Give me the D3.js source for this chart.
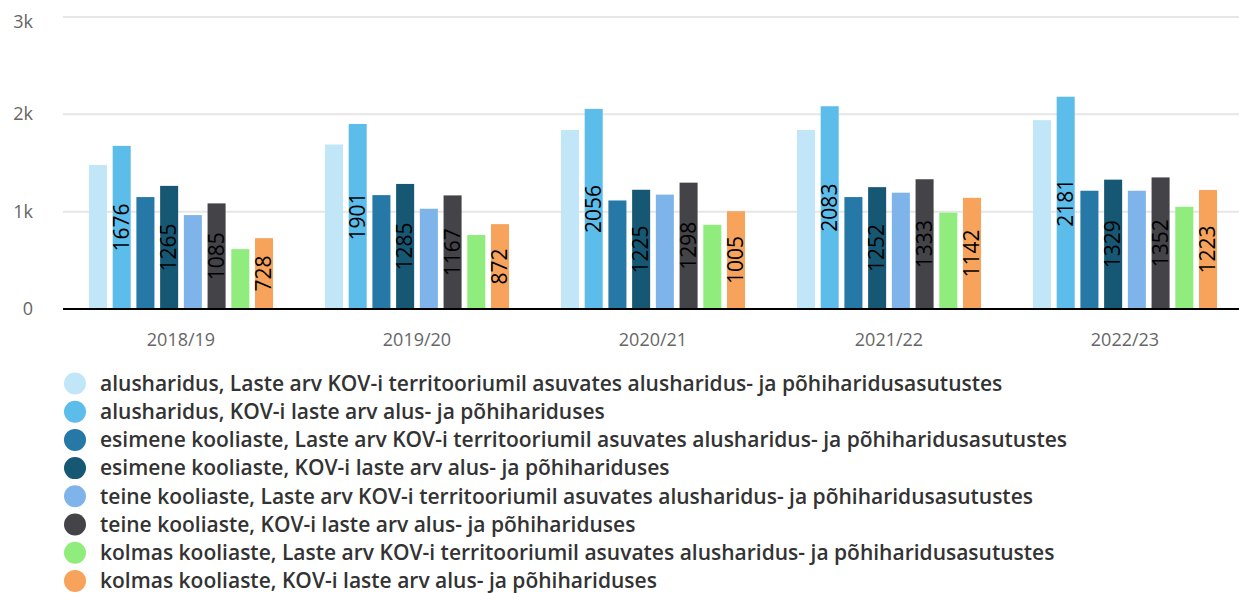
<!DOCTYPE html>
<html>
<head>
<meta charset="utf-8">
<script src="https://cdn.jsdelivr.net/npm/d3@7"></script>
<style>
  body { margin: 0; background: #fff; }
  svg { font-family: "Open Sans", Lato, sans-serif; display: block; }
</style>
</head>
<body>
<div id="chart"></div>
<script>
const years = ["2018/19", "2019/20", "2020/21", "2021/22", "2022/23"];

const seriesNames = [
  "alusharidus, Laste arv KOV-i territooriumil asuvates alusharidus- ja põhiharidusasutustes",
  "alusharidus, KOV-i laste arv alus- ja põhihariduses",
  "esimene kooliaste, Laste arv KOV-i territooriumil asuvates alusharidus- ja põhiharidusasutustes",
  "esimene kooliaste, KOV-i laste arv alus- ja põhihariduses",
  "teine kooliaste, Laste arv KOV-i territooriumil asuvates alusharidus- ja põhiharidusasutustes",
  "teine kooliaste, KOV-i laste arv alus- ja põhihariduses",
  "kolmas kooliaste, Laste arv KOV-i territooriumil asuvates alusharidus- ja põhiharidusasutustes",
  "kolmas kooliaste, KOV-i laste arv alus- ja põhihariduses"
];

const colors = ["#c1e6f7", "#5dbdea", "#2678a7", "#165874", "#7eb4ea", "#434348", "#90ed7d", "#f7a35c"];

// values per series, one per year
const alusTerr   = [1480, 1690, 1840, 1840, 1940];
const alusKov    = [1676, 1901, 2056, 2083, 2181];
const esimeneTerr = [1150, 1170, 1115, 1150, 1215];
const esimeneKov  = [1265, 1285, 1225, 1252, 1329];
const teineTerr  = [965, 1030, 1175, 1195, 1215];
const teineKov   = [1085, 1167, 1298, 1333, 1352];
const kolmasTerr = [615, 760, 865, 990, 1050];
const kolmasKov  = [728, 872, 1005, 1142, 1223];

const seriesValues = [alusTerr, alusKov, esimeneTerr, esimeneKov, teineTerr, teineKov, kolmasTerr, kolmasKov];
const labelled = [false, true, false, true, false, true, false, true];

const yTicks = [0, 1000, 2000, 3000];
const yTickLabels = ["0", "1k", "2k", "3k"];

const W = 1239, H = 593;
const margin = { left: 63, right: -4, top: 17, bottom: 284 };

const svg = d3.select("#chart").append("svg").attr("width", W).attr("height", H);

const x0 = d3.scaleBand().domain(years).range([margin.left, W - margin.right]).paddingInner(0).paddingOuter(0);
const x1 = d3.scaleBand().domain(d3.range(seriesNames.length))
  .range([x0.bandwidth() * 0.11, x0.bandwidth() * 0.89]).paddingInner(0.24).paddingOuter(0);
const y = d3.scaleLinear().domain([0, 3000]).range([309, 17]);

// grid
svg.append("g").selectAll("line").data(yTicks.filter(d => d > 0)).enter().append("line")
  .attr("x1", margin.left).attr("x2", W)
  .attr("y1", d => y(d)).attr("y2", d => y(d))
  .attr("stroke", "#e6e6e6").attr("stroke-width", 2);

// y labels
svg.append("g").selectAll("text").data(yTicks).enter().append("text")
  .attr("x", 33).attr("text-anchor", "end")
  .attr("y", d => Math.max(y(d), 22) + 6)
  .attr("fill", "#666").attr("font-size", 18)
  .text((d, i) => yTickLabels[i]);

// bars
const groups = svg.append("g").selectAll("g").data(years).enter().append("g")
  .attr("transform", d => `translate(${x0(d)},0)`);

groups.each(function (yr, yi) {
  const g = d3.select(this);
  seriesValues.forEach((vals, si) => {
    const v = vals[yi];
    g.append("rect")
      .attr("x", x1(si)).attr("width", x1.bandwidth())
      .attr("y", y(v)).attr("height", y(0) - y(v))
      .attr("fill", colors[si]);
    if (labelled[si]) {
      const cx = x1(si) + x1.bandwidth() / 2;
      const cy = (y(v) + y(0)) / 2;
      g.append("text")
        .attr("transform", `translate(${cx},${cy}) rotate(-90)`)
        .attr("text-anchor", "middle").attr("dy", "0.35em")
        .attr("font-size", 21).attr("font-weight", 500).attr("fill", "#000")
        .text(v);
    }
  });
});

// x axis
svg.append("line").attr("x1", margin.left).attr("x2", W)
  .attr("y1", y(0)).attr("y2", y(0)).attr("stroke", "#000").attr("stroke-width", 2);

svg.append("g").selectAll("text").data(years).enter().append("text")
  .attr("x", d => x0(d) + x0.bandwidth() / 2).attr("y", 346)
  .attr("text-anchor", "middle").attr("fill", "#666").attr("font-size", 18)
  .text(d => d);

// legend
const legend = svg.append("g").selectAll("g").data(seriesNames).enter().append("g")
  .attr("transform", (d, i) => `translate(75,${383.5 + i * 28.2})`);
legend.append("circle").attr("r", 11).attr("fill", (d, i) => colors[i]);
legend.append("text").attr("x", 25).attr("dy", "0.35em")
  .attr("font-size", 21).attr("font-weight", 600).attr("fill", "#333")
  .text(d => d);
</script>
</body>
</html>
